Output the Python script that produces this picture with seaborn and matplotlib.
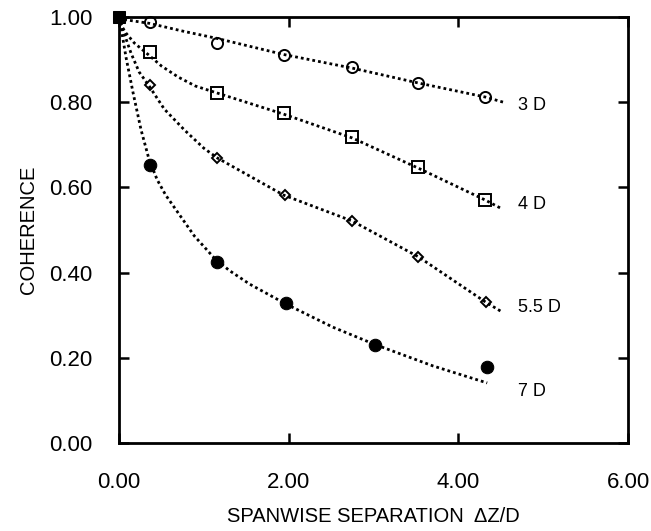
import matplotlib
matplotlib.use('Agg')
import matplotlib.pyplot as plt
import seaborn as sns
import numpy as np

# measured points (spanwise separation dZ/D, coherence)
x_3d = [0.36, 1.15, 1.94, 2.75, 3.53, 4.32]
y_3d = [0.988, 0.939, 0.911, 0.883, 0.845, 0.812]
x_4d = [0.36, 1.15, 1.94, 2.75, 3.53, 4.32]
y_4d = [0.918, 0.822, 0.775, 0.718, 0.648, 0.570]
x_55d = [0.36, 1.15, 1.96, 2.75, 3.53, 4.33]
y_55d = [0.840, 0.669, 0.582, 0.521, 0.437, 0.331]
x_7d = [0.36, 1.15, 1.97, 3.02, 4.34]
y_7d = [0.653, 0.425, 0.329, 0.230, 0.178]

# fitted curves
cx_3d = [0.0, 0.06, 0.36, 0.77, 1.15, 1.94, 2.75, 3.53, 4.32, 4.53]
cy_3d = [1.0, 0.994, 0.985, 0.966, 0.950, 0.912, 0.880, 0.845, 0.812, 0.800]
cx_4d = [0.0, 0.024, 0.083, 0.18, 0.343, 0.5, 0.698, 0.9, 1.15, 1.94, 2.75, 3.53, 4.32, 4.52]
cy_4d = [1.0, 0.981, 0.962, 0.939, 0.912, 0.885, 0.859, 0.838, 0.822, 0.772, 0.716, 0.645, 0.570, 0.549]
cx_55d = [0.0, 0.047, 0.142, 0.237, 0.355, 0.533, 0.77, 1.0, 1.16, 1.94, 2.75, 3.53, 4.32, 4.52]
cy_55d = [1.0, 0.969, 0.915, 0.871, 0.838, 0.784, 0.735, 0.692, 0.669, 0.582, 0.521, 0.437, 0.331, 0.307]
cx_7d = [0.0, 0.024, 0.083, 0.166, 0.26, 0.355, 0.45, 0.55, 0.698, 0.888, 1.124, 1.3,
         1.54, 1.97, 2.52, 3.02, 3.70, 4.34]
cy_7d = [1.0, 0.975, 0.905, 0.822, 0.735, 0.665, 0.618, 0.582, 0.540, 0.486, 0.434, 0.405,
         0.373, 0.326, 0.272, 0.231, 0.181, 0.141]

series_labels = ['3 D', '4 D', '5.5 D', '7 D']
label_y = [0.793, 0.559, 0.317, 0.120]
label_x = 4.70

x_ticks = [0, 2, 4, 6]
x_ticklabels = ['0.00', '2.00', '4.00', '6.00']
y_ticks = [0.0, 0.2, 0.4, 0.6, 0.8, 1.0]
y_ticklabels = ['0.00', '0.20', '0.40', '0.60', '0.80', '1.00']

sns.set_style('ticks')
plt.rcParams['font.family'] = ['Liberation Sans', 'DejaVu Sans']
plt.rcParams['text.color'] = 'black'
plt.rcParams['axes.labelcolor'] = 'black'

fig = plt.figure(figsize=(6.51, 5.31), dpi=100)
ax = fig.add_axes([0.1828, 0.1657, 0.7819, 0.8023])

dots = (0, (1, 1.1))
for cx, cy in [(cx_3d, cy_3d), (cx_4d, cy_4d), (cx_55d, cy_55d), (cx_7d, cy_7d)]:
    sns.lineplot(x=cx, y=cy, ax=ax, color='black', linewidth=2.0,
                 linestyle=dots, sort=False, zorder=2)

mk = dict(ax=ax, color='black', linestyle='', zorder=3, clip_on=False)
sns.lineplot(x=x_3d, y=y_3d, marker='o', markersize=8, mfc='none', mec='black', mew=1.4, **mk)
sns.lineplot(x=x_4d, y=y_4d, marker='s', markersize=8, mfc='none', mec='black', mew=1.4, **mk)
sns.lineplot(x=x_55d, y=y_55d, marker='D', markersize=5.5, mfc='none', mec='black', mew=1.4, **mk)
sns.lineplot(x=x_7d, y=y_7d, marker='o', markersize=9, mfc='black', mec='black', **mk)
sns.lineplot(x=[0.0], y=[1.0], marker='s', markersize=8, mfc='black', mec='black', **mk)

for lab, ly in zip(series_labels, label_y):
    ax.text(label_x, ly, lab, fontsize=13, va='center', ha='left', color='black')

ax.set_xlim(0, 6)
ax.set_ylim(0, 1)
ax.set_xticks(x_ticks)
ax.set_xticklabels(x_ticklabels)
ax.set_yticks(y_ticks)
ax.set_yticklabels(y_ticklabels)
ax.tick_params(axis='both', direction='in', length=7, width=1.8,
               top=True, right=True, labelsize=16, colors='black')
ax.tick_params(axis='x', pad=21)
ax.tick_params(axis='y', pad=19)
for s in ax.spines.values():
    s.set_linewidth(2)
    s.set_color('black')

ax.set_xlabel('SPANWISE SEPARATION  \u0394Z/D', fontsize=14.5, labelpad=10, color='black')
ax.set_ylabel('COHERENCE', fontsize=14.5, labelpad=8, color='black')

fig.savefig('out.png', dpi=100)
